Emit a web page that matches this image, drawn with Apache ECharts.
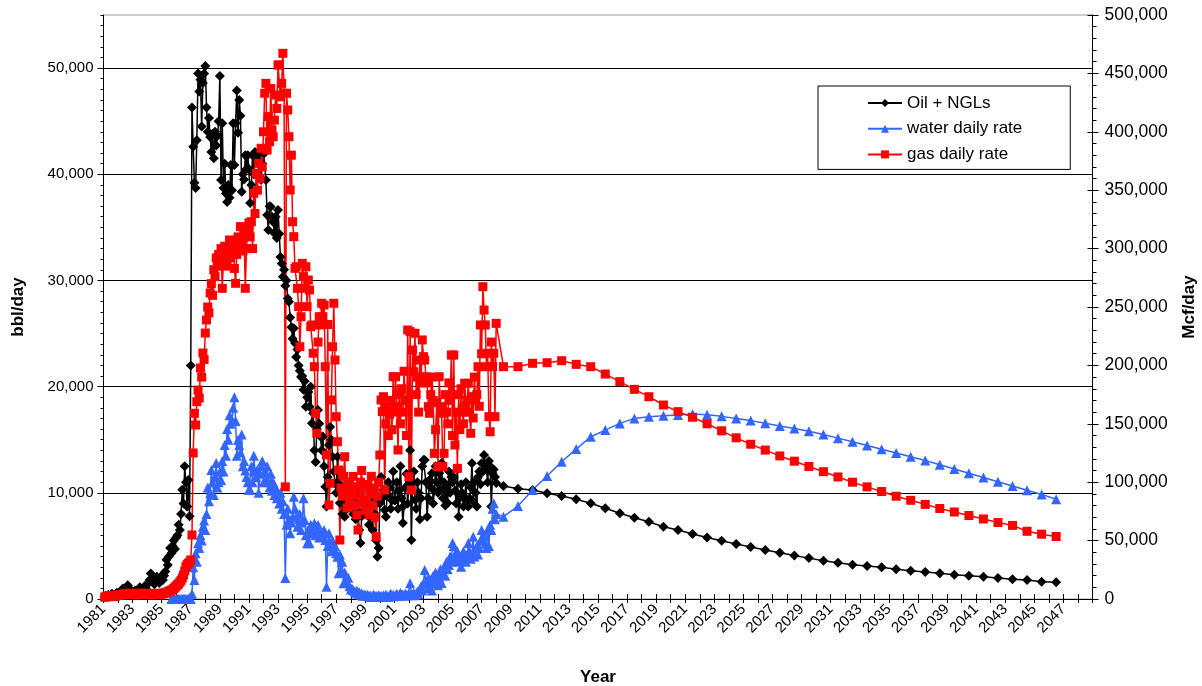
<!DOCTYPE html>
<html><head><meta charset="utf-8">
<script src="https://cdn.jsdelivr.net/npm/echarts/dist/echarts.min.js"></script>
<style>html,body{margin:0;padding:0;background:#fff}#c{width:1202px;height:686px}</style>
</head><body><div id="c"></div>
<script>
// ---- historical monthly data, Jan 1981 .. Dec 2007 (one row per year) ----
const histStartYear = 1981;
const oilHist = [
 200,300,250,400,300,350,500,400,300,450,600,500,
 300,500,800,1000,700,900,1100,1300,900,600,800,700,
 600,800,500,700,900,1100,800,600,900,1200,1000,1400,
 1500,1800,2400,1900,1600,1400,1800,2100,1700,1500,1900,2200,
 1800,2200,2600,3700,3200,4000,4800,4300,5000,5500,4700,5800,
 6000,7000,6500,8000,10300,9000,12500,11000,8700,11200,7800,22000,
 46300,42600,39200,38700,43200,49500,47800,48900,44500,48600,49500,50200,
 46300,44000,45300,43500,42100,43800,41500,44000,42700,43600,45000,49250,
 39450,44800,38700,41000,38200,37400,39000,37800,40870,38500,44800,40870,
 44800,47900,43900,47000,45500,38350,40000,39500,41800,40500,41800,40500,
 37300,39000,41800,40000,42100,41500,42000,41000,42000,39450,41000,42100,
 42000,39450,36160,34750,37000,36940,36000,35500,34450,36000,34000,36630,
 34400,32200,31600,30350,31000,29500,30000,28300,28000,26500,25600,24500,
 25500,24100,22800,23500,22000,21500,20900,21000,19700,20500,18100,19000,
 19500,18100,20000,16550,17500,14000,12900,16000,17800,16500,15300,14000,
 15300,12500,10570,8700,11500,14500,16200,15000,13400,12000,10900,10000,
 13400,10900,9040,10500,8000,9500,7750,9000,8500,10000,9200,8800,
 9000,8000,10200,7500,9500,8200,6500,5270,7800,9000,8400,8380,
 8380,9500,7000,8800,7500,6500,9200,8000,5500,3980,4800,9000,
 11500,9500,10260,8380,7750,9800,11000,10500,8500,9300,12000,9300,
 9320,11000,8500,10200,12500,9500,7150,8800,10500,11800,9000,10800,
 14000,5560,10900,12000,9320,8500,11000,10000,7500,9500,12500,13090,
 13090,11000,7750,9500,11200,10500,11850,9000,10200,12500,11000,10000,
 11850,10260,12800,9500,11000,8800,10500,9040,12000,10000,11500,11000,
 11500,10200,9000,12200,7750,9500,10800,9980,8700,9500,11000,8800,
 8700,9500,10500,12780,9200,11000,10000,8700,11500,12000,10800,12780,
 12000,13560,12500,12150,11000,13000,12500,8700,11850,12200,11500,10920
];
const waterHist = [
 null,null,null,null,null,null,null,null,null,null,null,null,
 null,null,null,null,null,null,null,null,null,null,null,null,
 null,null,null,null,null,null,null,null,null,null,null,null,
 null,null,null,null,null,null,null,null,null,null,null,null,
 null,null,null,null,null,null,null,0,0,0,0,0,
 0,0,0,0,0,0,0,0,0,0,100,0,
 500,3000,1800,4300,3500,5240,4800,6000,5500,6800,7400,6500,
 8000,10500,9200,10000,12150,11000,9800,11500,12800,10500,11000,12000,
 11200,13000,12000,14500,13500,16000,15000,17300,16500,16800,18000,19000,
 16760,13500,15000,14500,13800,15500,12500,13000,12100,11500,11000,10300,
 10300,12500,11000,13500,12000,11500,12200,10000,11800,12500,13000,11000,
 12000,11200,12500,11000,10500,11800,10200,11000,9800,10500,9500,10000,
 9000,10000,8500,9200,8000,1980,7000,8500,7500,6200,7200,7750,
 9630,8500,7750,6800,7500,8000,6500,7200,9480,7440,6000,5240,
 6500,5240,7000,6200,6800,7130,6000,6500,7000,5800,6200,5870,
 5870,6500,5560,1160,5000,6200,5240,4500,5500,4800,5000,4300,
 3980,2420,4200,2730,3500,1480,2500,1790,1500,2000,1200,900,
 1000,850,700,600,800,500,650,400,550,300,450,350,
 300,400,250,350,200,300,400,250,300,200,350,250,
 300,200,350,250,400,300,200,350,500,300,400,250,
 350,500,300,400,600,350,450,300,500,400,350,450,
 1480,500,400,600,350,500,700,450,900,1200,800,1500,
 2730,1500,1000,2000,1200,1800,800,2200,1500,2500,1800,1300,
 2000,2800,1500,2500,3000,2200,3500,2800,3200,4000,3500,5270,
 5000,4200,3800,4500,3500,4000,3040,3800,4500,4000,3500,4200,
 5270,4500,3800,4200,5870,4000,4500,5000,4200,4800,5500,6500,
 5500,6000,5200,4800,6500,5000,7000,6500,8500,9010,7500,8000
];
const gasHist = [
 1500,2000,2500,2000,2500,3000,2500,2000,2500,3000,3500,3000,
 3000,3500,4000,3500,4000,4500,4000,4500,5000,4500,4000,4500,
 4000,4500,3500,4000,4500,5000,4500,4000,4500,5000,4500,4000,
 4000,4500,4000,3500,4000,4500,4000,4500,5000,4500,4000,4500,
 4500,5000,5500,5000,6000,6500,7000,7500,8000,9000,10000,11000,
 12000,13000,14500,16000,18000,20500,24000,27700,29500,30500,31500,33400,
 54800,125000,159000,149000,168900,178900,172000,197800,190000,210600,205000,227700,
 238900,250000,245000,262000,270000,260000,282000,276000,292000,285000,295000,288000,
 300000,266000,290000,302000,295000,285000,300000,307400,292000,298000,305000,283000,
 270300,295000,310000,300000,318800,305000,298000,312000,266000,300000,315000,322000,
 310000,323000,300000,347400,330000,364500,350000,373000,360000,385900,370000,400000,
 433000,441500,384400,413000,391500,437000,401600,395800,410000,431500,420000,457200,
 457200,430000,441500,467200,433000,96000,433000,418700,395800,350200,380000,323000,
 310200,283100,284500,266000,250300,216000,241700,287400,276000,266000,284500,250300,
 273100,264600,233200,234600,210400,198900,159000,141900,220000,241700,234600,253200,
 241700,251700,198900,123300,235000,80500,99100,170400,216000,253200,204600,156100,
 134700,110400,50500,95000,88000,105000,121800,92000,78000,100000,85000,96000,
 90000,105000,80000,96000,72000,59100,88000,100000,110000,82000,95000,76000,
 85000,98000,72000,90000,105000,80000,95000,70000,53300,88000,100000,123300,
 170400,160400,173200,93300,150000,165000,140000,158000,170000,145000,190300,160000,
 190300,165000,127600,175000,150000,180000,160000,195000,170000,140000,230300,104700,
 228900,93300,213200,194600,227500,175000,190000,160000,204600,185000,221800,207500,
 204600,190300,185000,164700,159000,175000,190000,170000,124700,145000,168000,113300,
 190300,164700,159000,113300,124700,175000,160000,150000,185000,170000,208900,140000,
 208900,131800,160000,111900,175000,145000,180000,160000,150000,184700,165000,170000,
 184700,160000,141900,173200,155000,190000,170000,175000,198900,165000,234600,210000,
 267400,247400,234600,198900,210400,156100,143200,220000,198900,210400,156100,236000
];
// ---- annual forecast, mid-2008 .. mid-2046 ----
const fcStartYear = 2008.5;
const oilFc = [10640,10390,10260,9950,9700,9390,9010,8540,8070,7660,7280,6810,6500,6120,
 5800,5480,5180,4900,4620,4360,4100,3850,3600,3420,3230,3110,2980,2800,2670,2540,2420,2290,
 2190,2100,1980,1850,1790,1630,1570];
const waterFc = [7750,8760,10260,11580,12930,14120,15280,15910,16540,17010,17170,17260,17330,17420,
 17350,17200,17000,16800,16550,16300,16050,15800,15500,15150,14800,14450,14100,13750,13400,13050,
 12650,12250,11850,11450,11050,10650,10250,9850,9400];
const gasFc = [198900,198900,201800,202300,204000,200900,198900,192600,186100,179500,173200,166100,160400,155600,
 150000,144000,138000,132500,127500,122500,118000,113500,109000,104500,100000,96000,92000,88000,84500,81000,
 77500,74500,71500,68500,65500,63000,58000,55500,53500];
const seriesNames = ['Oil + NGLs','water daily rate','gas daily rate'];
const leftTicks = {min:0, max:55000, step:10000};
const rightTicks = {min:0, max:500000, step:50000};
const xTicks = {min:1981, max:2049, step:2};

function build(hist, fc){
  const pts = [];
  hist.forEach((v,i)=>{ pts.push([histStartYear + (i+1)/12, v]); });
  fc.forEach((v,i)=>{ pts.push([fcStartYear + i, v]); });
  return pts;
}
const FONT = 'Liberation Sans, Arial, sans-serif';
const fmt = v => Math.round(v).toLocaleString('en-US');
const chart = echarts.init(document.getElementById('c'), null, {renderer:'canvas'});
const gridPos = {left:103.5, right:109.5, top:15, bottom:87};
const baseX = {type:'value', min:xTicks.min, max:xTicks.max, position:'bottom', splitLine:{show:false}};
const noLbl = {show:false};
chart.setOption({
  animation:false,
  backgroundColor:'#fff',
  grid:{...gridPos, show:true, borderColor:'#999', borderWidth:1, backgroundColor:'#fff',
        containLabel:false, outerBoundsMode:'none'},
  legend:{
    orient:'vertical', left:818, top:86, data:seriesNames,
    borderColor:'#000', borderWidth:1, padding:[8,48,6,49],
    itemWidth:34, itemHeight:10, itemGap:7.7, backgroundColor:'#fff',
    textStyle:{fontFamily:FONT, fontSize:17, color:'#000', lineHeight:18}
  },
  xAxis:[
    {...baseX, interval:xTicks.step, name:'Year', nameLocation:'middle', nameGap:70,
     nameTextStyle:{fontFamily:FONT, fontSize:17, fontWeight:'bold', color:'#000'},
     axisLine:{show:true, lineStyle:{color:'#000', width:1}},
     axisTick:{show:false},
     axisLabel:{rotate:45, fontFamily:FONT, fontSize:15, color:'#000', margin:8,
       showMaxLabel:false, formatter:v=>String(v)}},
    {...baseX, interval:1, axisLine:{show:false}, axisLabel:noLbl,
     axisTick:{show:true, length:4, lineStyle:{color:'#000'}}},
    {...baseX, interval:1, axisLine:{show:false}, axisLabel:noLbl,
     axisTick:{show:true, inside:true, length:5, lineStyle:{color:'#000'}}}
  ],
  yAxis:[
    {type:'value', position:'left', min:leftTicks.min, max:leftTicks.max, interval:leftTicks.step,
     name:'bbl/day', nameLocation:'middle', nameGap:77, nameRotate:90,
     nameTextStyle:{fontFamily:FONT, fontSize:17, fontWeight:'bold', color:'#000'},
     axisLine:{show:true, lineStyle:{color:'#000'}},
     axisTick:{show:true, length:6, lineStyle:{color:'#000'}},
     axisLabel:{fontFamily:FONT, fontSize:15, color:'#000', margin:10, showMaxLabel:false, formatter:fmt},
     splitLine:{show:true, showMinLine:false, showMaxLine:false, lineStyle:{color:'#000', width:1}}},
    {type:'value', position:'left', min:leftTicks.min, max:leftTicks.max, interval:1000,
     axisLine:{show:false}, axisLabel:noLbl, splitLine:{show:false},
     axisTick:{show:true, length:3, lineStyle:{color:'#000'}}},
    {type:'value', position:'right', min:rightTicks.min, max:rightTicks.max, interval:rightTicks.step,
     name:'Mcf/day', nameLocation:'middle', nameGap:88, nameRotate:90,
     nameTextStyle:{fontFamily:FONT, fontSize:17, fontWeight:'bold', color:'#000'},
     axisLine:{show:true, lineStyle:{color:'#000'}},
     axisTick:{show:true, length:6, lineStyle:{color:'#000'}},
     axisLabel:{fontFamily:FONT, fontSize:17.5, color:'#000', margin:12, formatter:fmt},
     splitLine:{show:false}},
    {type:'value', position:'right', min:rightTicks.min, max:rightTicks.max, interval:rightTicks.step,
     axisLine:{show:false}, axisLabel:noLbl, splitLine:{show:false},
     axisTick:{show:true, inside:true, length:5, lineStyle:{color:'#000'}}},
    {type:'value', position:'right', min:rightTicks.min, max:rightTicks.max, interval:10000,
     axisLine:{show:false}, axisLabel:noLbl, splitLine:{show:false},
     axisTick:{show:true, length:4, lineStyle:{color:'#000'}}}
  ],
  series:[
    {name:seriesNames[0], type:'line', yAxisIndex:0, data:build(oilHist, oilFc),
     symbol:'diamond', symbolSize:10, color:'#000',
     lineStyle:{color:'#000', width:1.5}, itemStyle:{color:'#000'}},
    {name:seriesNames[1], type:'line', yAxisIndex:0, data:build(waterHist, waterFc),
     symbol:'triangle', symbolSize:10, color:'#3366FF',
     lineStyle:{color:'#3366FF', width:1.5}, itemStyle:{color:'#3366FF'}},
    {name:seriesNames[2], type:'line', yAxisIndex:2, data:build(gasHist, gasFc),
     symbol:'rect', symbolSize:9, color:'#FF0000',
     lineStyle:{color:'#FF0000', width:1.5}, itemStyle:{color:'#FF0000'}}
  ]
});
</script></body></html>
